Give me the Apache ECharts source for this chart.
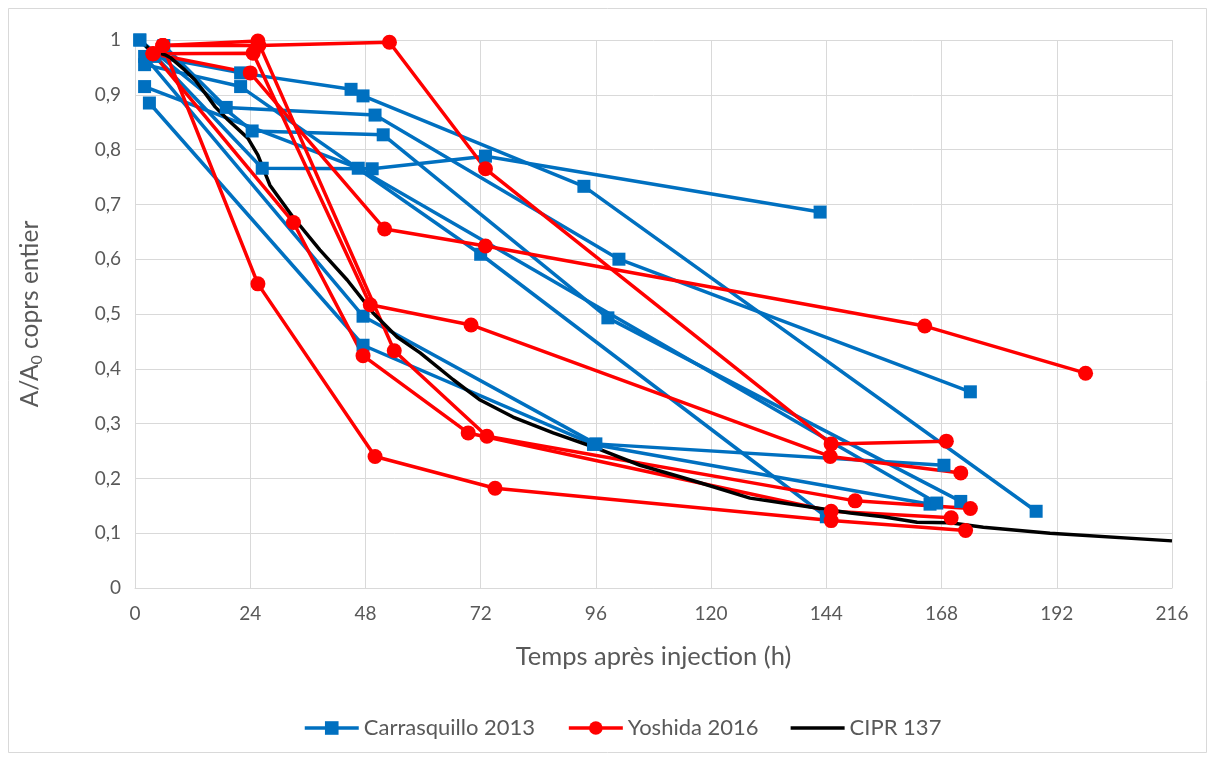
<!DOCTYPE html>
<html>
<head>
<meta charset="utf-8">
<script src="https://cdn.jsdelivr.net/npm/echarts@6/dist/echarts.min.js"></script>
<style>
  html, body { margin: 0; padding: 0; background: #ffffff; }
  #chart { width: 1215px; height: 761px; }
</style>
</head>
<body>
<div id="chart"></div>
<script>
// Time after injection (h) and whole-body retained fraction A/A0, one array per patient.
const carrasquillo2013 = [
  [[1, 1.00], [26.5, 0.766], [49.4, 0.765], [73, 0.788], [142.7, 0.686]],
  [[2, 0.955], [22, 0.915], [72, 0.609], [144, 0.13]],
  [[4, 0.97], [22, 0.94], [45, 0.91], [47.5, 0.898], [93.5, 0.733], [187.7, 0.14]],
  [[1, 1.00], [24.4, 0.834], [51.7, 0.827], [98.5, 0.493], [172, 0.158]],
  [[6, 0.99], [19, 0.877], [50, 0.863], [100.8, 0.60], [174, 0.358]],
  [[2, 0.97], [47.5, 0.496], [96, 0.263], [168.5, 0.224]],
  [[3, 0.885], [47.5, 0.443], [95.5, 0.262], [165.6, 0.153]],
  [[2, 0.915], [46.5, 0.766], [167, 0.155]]
];

const yoshida2016 = [
  [[3.75, 0.975], [24, 0.94], [52, 0.655], [73, 0.624], [164.5, 0.478], [198, 0.392]],
  [[5.8, 0.99], [25.8, 0.99], [53, 0.996], [73, 0.765], [145, 0.263], [169, 0.268]],
  [[5.8, 0.99], [25.6, 0.555], [50, 0.24], [75, 0.182], [145, 0.123], [173, 0.105]],
  [[3.75, 0.975], [33, 0.667], [47.5, 0.424], [69.4, 0.283], [145, 0.14], [170, 0.128]],
  [[3.75, 0.975], [24.6, 0.976], [49, 0.517], [70, 0.48], [144.8, 0.24], [172, 0.21]],
  [[5.8, 0.99], [25.6, 0.998], [54, 0.433], [73.3, 0.277], [150, 0.159], [174, 0.145]]
];

// ICRP 137 reference retention curve
const cipr137Hours = [1, 3.1, 6.25, 7.5, 10.4, 12.5, 14.6, 16.7, 19.4, 23.5, 25.6, 28.1, 32.9, 38.5,
  44.2, 49.6, 54.6, 59.4, 66.3, 71.9, 78.75, 87.1, 96.25, 105.2, 113.5, 117.7, 128.1, 135, 142,
  149, 155.8, 162.9, 169.8, 176.7, 190.6, 216];
const cipr137Values = [1.0, 0.982, 0.973, 0.967, 0.945, 0.927, 0.903, 0.878, 0.854, 0.821, 0.79,
  0.735, 0.677, 0.617, 0.562, 0.502, 0.458, 0.429, 0.38, 0.343, 0.312, 0.283, 0.255, 0.224, 0.203,
  0.192, 0.164, 0.155, 0.146, 0.137, 0.13, 0.12, 0.119, 0.111, 0.1, 0.086];

const xTicks = { min: 0, max: 216, interval: 24 };
const yTicks = { min: 0, max: 1, interval: 0.1 };

const BLUE = '#0070C0';
const RED = '#FF0000';
const TEXT = '#595959';
const GRID = '#D9D9D9';
const FONT = 'Lato, "Open Sans", sans-serif';
const LINE_W = 3.5;

const series = [];
carrasquillo2013.forEach(function (pts) {
  series.push({
    name: 'Carrasquillo 2013', type: 'line', data: pts, clip: false,
    symbol: 'rect', symbolSize: 13, showAllSymbol: true,
    lineStyle: { color: BLUE, width: LINE_W }, itemStyle: { color: BLUE },
    emphasis: { disabled: true }, animation: false
  });
});
yoshida2016.forEach(function (pts) {
  series.push({
    name: 'Yoshida 2016', type: 'line', data: pts, clip: false,
    symbol: 'circle', symbolSize: 15, showAllSymbol: true,
    lineStyle: { color: RED, width: LINE_W }, itemStyle: { color: RED },
    emphasis: { disabled: true }, animation: false
  });
});
series.push({
  name: 'CIPR 137', type: 'line', clip: false,
  data: cipr137Hours.map(function (h, i) { return [h, cipr137Values[i]]; }),
  symbol: 'none', lineStyle: { color: '#000000', width: LINE_W }, itemStyle: { color: '#000000' },
  emphasis: { disabled: true }, animation: false
});

const chart = echarts.init(document.getElementById('chart'), null, { renderer: 'canvas' });
chart.setOption({
  backgroundColor: '#ffffff',
  animation: false,
  textStyle: { fontFamily: FONT },
  graphic: [{
    type: 'rect', silent: true,
    shape: { x: 8.5, y: 8.5, width: 1198, height: 744 },
    style: { fill: 'none', stroke: GRID, lineWidth: 1 }
  }],
  grid: { left: 135, right: 43, top: 40, bottom: 173 },
  legend: {
    bottom: 17, left: 298,
    itemWidth: 54, itemHeight: 17, itemGap: 32,
    lineStyle: { width: 3.5 },
    textStyle: { color: TEXT, fontSize: 22, fontFamily: FONT },
    data: [
      'Carrasquillo 2013',
      'Yoshida 2016',
      { name: 'CIPR 137', icon: 'path://M0,0L54,0L54,3.5L0,3.5Z' }
    ]
  },
  xAxis: {
    type: 'value', min: xTicks.min, max: xTicks.max, interval: xTicks.interval,
    name: 'Temps après injection (h)', nameLocation: 'middle', nameGap: 56,
    nameTextStyle: { color: TEXT, fontSize: 25.5, fontFamily: FONT },
    axisLine: { show: true, lineStyle: { color: GRID, width: 1 } },
    axisTick: { show: false },
    axisLabel: { color: TEXT, fontSize: 19, margin: 16, fontFamily: FONT },
    splitLine: { show: true, lineStyle: { color: GRID, width: 1 } }
  },
  yAxis: {
    type: 'value', min: yTicks.min, max: yTicks.max, interval: yTicks.interval,
    name: 'A/A{sub|0} coprs entier', nameLocation: 'middle', nameGap: 90, nameRotate: 90,
    nameTextStyle: {
      color: TEXT, fontSize: 24.5, fontFamily: FONT,
      rich: { sub: { fontSize: 16, color: TEXT, fontFamily: FONT, verticalAlign: 'bottom', padding: [13, 0, 0, 0] } }
    },
    axisLine: { show: true, lineStyle: { color: GRID, width: 1 } },
    axisTick: { show: false },
    axisLabel: {
      color: TEXT, fontSize: 19, margin: 14, fontFamily: FONT,
      formatter: function (v) {
        if (v === 0) return '0';
        if (Math.abs(v - 1) < 1e-9) return '1';
        return v.toFixed(1).replace('.', ',');
      }
    },
    splitLine: { show: true, lineStyle: { color: GRID, width: 1 } }
  },
  series: series
});
</script>
</body>
</html>
